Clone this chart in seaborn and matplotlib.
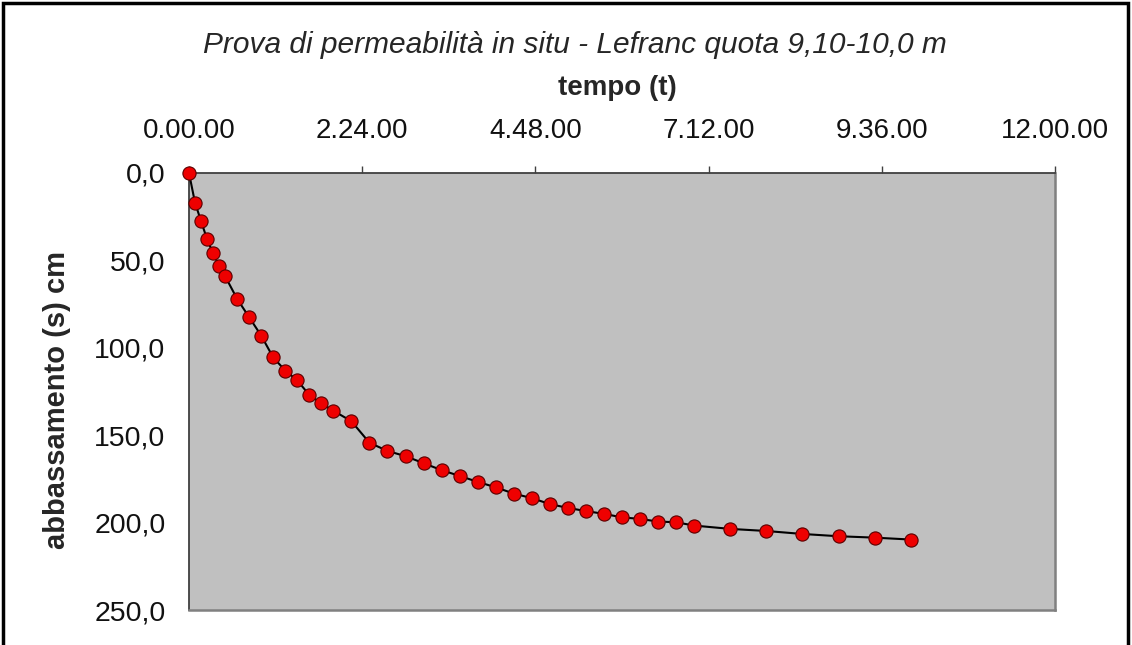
import seaborn as sns
import matplotlib.pyplot as plt
from matplotlib.ticker import FuncFormatter
from matplotlib.patches import Rectangle

# time in seconds, drawdown in cm
tempo = [0, 5, 10, 15, 20, 25, 30, 40, 50, 60, 70, 80, 90, 100, 110, 120, 135,
         150, 165, 180, 195, 210, 225, 240, 255, 270, 285, 300, 315, 330, 345,
         360, 375, 390, 405, 420, 450, 480, 510, 540, 570, 600]
abbassamento = [0, 17, 27.5, 37.8, 46, 53, 59, 72, 82.5, 93, 105.5, 113, 118.6,
                127, 131.8, 136, 142, 154.3, 159, 162, 166, 170, 173.3, 176.7,
                179.8, 183.4, 186, 189.4, 191.6, 193.4, 195, 197, 197.9, 199.4,
                199.8, 201.7, 203.6, 204.8, 206.5, 207.8, 208.6, 209.7]
x_ticks = [0, 144, 288, 432, 576, 720]
y_ticks = [0, 50, 100, 150, 200, 250]

sns.set_theme(style="white")
plt.rcParams['font.family'] = ['Liberation Sans', 'DejaVu Sans']

fig = plt.figure(figsize=(11.32, 6.45), dpi=100)
ax = fig.add_axes([189/1132, 1 - 610/645, (1055-189)/1132, (610-173)/645])
ax.set_facecolor('#C0C0C0')

sns.lineplot(x=tempo, y=abbassamento, ax=ax, sort=False, color='black',
             linewidth=1.5, marker='o', markersize=9.5,
             markerfacecolor='#EE0000', markeredgecolor='#5a0000',
             markeredgewidth=0.8, clip_on=False, zorder=5)

ax.set_xlim(0, 720)
ax.set_ylim(250, 0)
ax.set_xticks(x_ticks)
ax.set_yticks(y_ticks)
ax.xaxis.tick_top()
ax.xaxis.set_major_formatter(FuncFormatter(lambda v, p: f"{int(v)//60}.{int(v)%60:02d}.00"))
ax.yaxis.set_major_formatter(FuncFormatter(lambda v, p: f"{v:.1f}".replace('.', ',')))
ax.tick_params(axis='x', direction='out', length=5, width=1, pad=16,
               labelsize=20, colors='#404040', labelcolor='#111111')
ax.tick_params(axis='y', direction='out', length=5, width=1, pad=12,
               labelsize=20.5, colors='#404040', labelcolor='#111111')
ax.set_xlabel('')
ax.set_ylabel('')

for side in ['left', 'top']:
    ax.spines[side].set_color('#404040')
    ax.spines[side].set_linewidth(1.3)
for side in ['right', 'bottom']:
    ax.spines[side].set_color('#808080')
    ax.spines[side].set_linewidth(1.8)

fig.text(575/1132, 1 - 53/645, 'Prova di permeabilità in situ - Lefranc quota 9,10-10,0 m',
         ha='center', va='baseline', fontsize=21.5, style='italic')
fig.text(617/1132, 1 - 95/645, 'tempo (t)', ha='center', va='baseline',
         fontsize=20, fontweight='bold')
fig.text(57/1132, 1 - 400/645, 'abbassamento (s) cm', ha='center', va='center',
         rotation=90, fontsize=21, fontweight='bold')

fig.add_artist(Rectangle((3/1132, -0.1), 1125/1132, 1.1 - 3/645,
                         transform=fig.transFigure, fill=False,
                         edgecolor='black', linewidth=2.5))

fig.savefig('out.png', dpi=100)
